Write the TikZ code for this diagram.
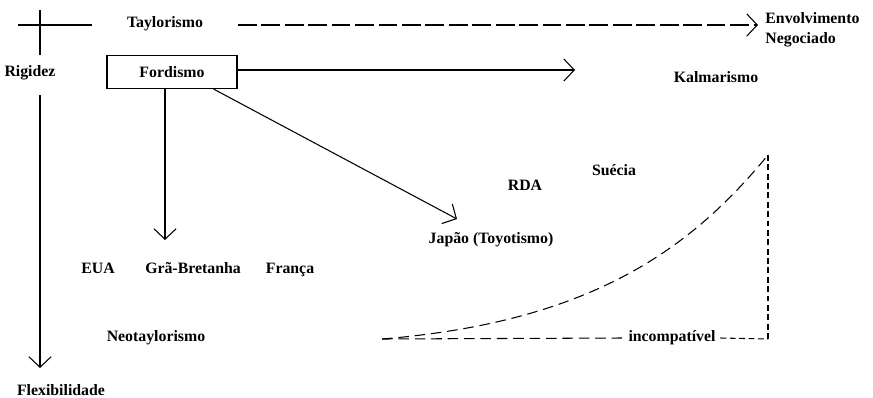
\documentclass[tikz,border=0pt]{standalone}
\usepackage{fontspec}
\setmainfont{Liberation Serif}
\usetikzlibrary{arrows.meta}

\tikzset{
  lbl/.style={font=\fontsize{13.5}{17}\selectfont\bfseries, inner sep=1pt},
  stroke/.style={line width=0.9pt},
  longdash/.style={stroke, dash pattern=on 9pt off 5pt},
  shortdash/.style={stroke, dash pattern=on 5pt off 3pt},
}

\begin{document}
\begin{tikzpicture}[x=0.03cm, y=-0.03cm, >={Straight Barb[length=9pt,width=19pt]}]

\useasboundingbox ( 0, 0 ) rectangle ( 873, 398 );

% Axes
\coordinate (axTop) at ( 40, 10 );
\coordinate (axRig) at ( 40, 55 );
\coordinate (axFlx) at ( 40, 95 );
\coordinate (axEnd) at ( 40, 368 );
\coordinate (crsL) at ( 18, 25 );
\coordinate (crsR) at ( 92, 25 );
\coordinate (tayR) at ( 238, 25 );
\coordinate (tayEnd) at ( 758, 25 );

\draw [stroke] (axTop) -- (axRig);
\draw [stroke, ->] (axFlx) -- (axEnd);
\draw [stroke] (crsL) -- (crsR);
\draw [stroke, ->, dash pattern=on 16pt off 4pt] (tayR) -- (tayEnd);

\node (rigidez) at ( 30, 73 ) [lbl] {Rigidez};
\node (flex) at ( 61, 390 ) [lbl] {Flexibilidade};
\node (taylor) at ( 165, 24 ) [lbl] {Taylorismo};
\node (envolv) at ( 764, 30 ) [lbl, anchor=west, align=left] {Envolvimento\\Negociado};

% Fordismo and its arrows
\node (fordismo) at ( 172, 72 ) [lbl, draw, stroke, minimum width=3.9cm, minimum height=0.99cm] {Fordismo};

\coordinate (fordE) at ( 575, 70 );
\coordinate (fordS) at ( 165, 240 );
\coordinate (fordD) at ( 457, 219 );

\draw [stroke, ->] (fordismo.east |- fordE) -- (fordE);
\draw [stroke, ->] (fordismo.south -| fordS) -- (fordS);
\draw [stroke, ->] ([xshift=-0.72cm]fordismo.south east) -- (fordD);

% Labels
\node (kalmar) at ( 716, 77 ) [lbl] {Kalmarismo};
\node (suecia) at ( 614, 170 ) [lbl] {Suécia};
\node (rda) at ( 525, 185 ) [lbl] {RDA};
\node (japao) at ( 491, 240 ) [lbl] {Japão (Toyotismo)};

\node (eua) at ( 98, 273 ) [lbl, anchor=base] {EUA};
\node (gb) at ( 193, 273 ) [lbl, anchor=base] {Grã-Bretanha};
\node (franca) at ( 290, 273 ) [lbl, anchor=base] {França};
\node (neotay) at ( 156, 338 ) [lbl] {Neotaylorismo};

% Incompatibility triangle
\coordinate (triL) at ( 382, 339 );
\coordinate (triR) at ( 768, 339 );
\coordinate (triT) at ( 768, 155 );
\node (incomp) at ( 672, 338 ) [lbl, inner xsep=4pt] {incompatível};

\draw [longdash] (triL) .. controls ( 590, 322 ) and ( 690, 250 ) .. (triT);
\draw [shortdash] (triT) -- (triR);
\draw [longdash] (triL) -- (incomp.west);
\draw [shortdash] (incomp.east) -- (triR);

\end{tikzpicture}
\end{document}
